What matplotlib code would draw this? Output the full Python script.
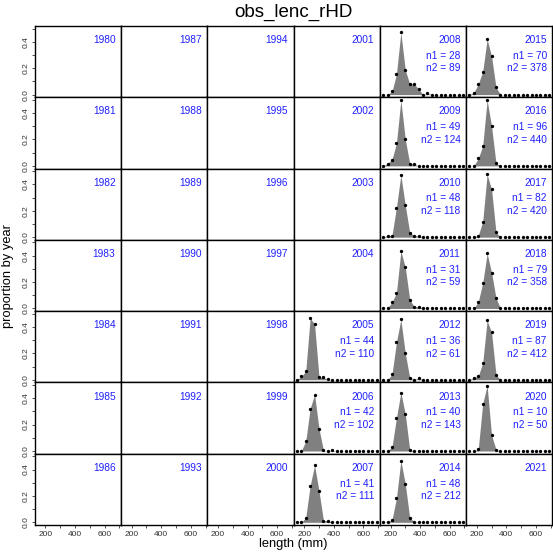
import matplotlib
matplotlib.use("Agg")
import matplotlib.pyplot as plt
import numpy as np

plt.rcParams['font.family'] = ['Liberation Sans', 'DejaVu Sans']

# length bins (mm)
bins = [150, 180, 210, 240, 270, 300, 330, 360, 390, 420,
        450, 480, 510, 540, 570, 600, 630, 660, 690]

first_year = 1980
n_rows = 7
n_cols = 6

comp_years = [2005, 2006, 2007, 2008, 2009, 2010, 2011, 2012, 2013, 2014,
              2015, 2016, 2017, 2018, 2019, 2020]
n1 = [44, 42, 41, 28, 49, 48, 31, 36, 40, 48, 70, 96, 82, 79, 87, 10]
n2 = [110, 102, 111, 89, 124, 118, 59, 61, 143, 212, 378, 440, 420, 358, 412, 50]

# observed proportions at length, one row per year in comp_years
props = [
    [0, 0.025, 0.063, 0.467, 0.421, 0.017, 0.017, 0.002, 0, 0, 0, 0, 0, 0, 0, 0, 0, 0, 0],
    [0, 0, 0.074, 0.322, 0.428, 0.168, 0.004, 0, 0.004, 0, 0, 0, 0, 0, 0, 0, 0, 0, 0],
    [0, 0, 0.033, 0.278, 0.432, 0.235, 0.013, 0.013, 0, 0, 0, 0, 0, 0, 0, 0, 0, 0, 0],
    [0, 0, 0.024, 0.153, 0.471, 0.186, 0.08, 0.08, 0.042, 0, 0.009, 0, 0, 0, 0, 0, 0, 0, 0],
    [0, 0.018, 0.048, 0.17, 0.498, 0.2, 0.018, 0.012, 0, 0, 0, 0, 0, 0, 0, 0, 0, 0, 0],
    [0, 0.012, 0.012, 0.224, 0.47, 0.24, 0.035, 0.01, 0.01, 0, 0, 0, 0, 0, 0, 0, 0, 0, 0],
    [0, 0, 0.048, 0.117, 0.435, 0.311, 0.067, 0.014, 0.014, 0, 0, 0, 0, 0, 0, 0, 0, 0, 0],
    [0, 0, 0.04, 0.283, 0.457, 0.2, 0.015, 0, 0.012, 0, 0, 0, 0, 0, 0, 0, 0, 0, 0],
    [0, 0, 0.03, 0.25, 0.443, 0.279, 0.009, 0, 0, 0, 0, 0, 0, 0, 0, 0, 0, 0, 0],
    [0, 0.003, 0.018, 0.182, 0.467, 0.29, 0.033, 0.005, 0, 0, 0, 0, 0, 0, 0, 0, 0, 0, 0],
    [0, 0.014, 0.08, 0.173, 0.42, 0.29, 0.055, 0, 0, 0, 0, 0, 0, 0, 0, 0, 0, 0, 0],
    [0, 0, 0.056, 0.149, 0.498, 0.30, 0.02, 0, 0, 0, 0, 0, 0, 0, 0, 0, 0, 0, 0],
    [0, 0, 0.012, 0.118, 0.475, 0.362, 0.037, 0, 0, 0, 0, 0, 0, 0, 0, 0, 0, 0, 0],
    [0, 0, 0.05, 0.192, 0.417, 0.271, 0.079, 0, 0, 0, 0, 0, 0, 0, 0, 0, 0, 0, 0],
    [0, 0.015, 0.027, 0.126, 0.449, 0.358, 0.038, 0, 0, 0, 0, 0, 0, 0, 0, 0, 0, 0, 0],
    [0, 0, 0.014, 0.358, 0.496, 0.12, 0.011, 0, 0, 0, 0, 0, 0, 0, 0, 0, 0, 0, 0],
]

text_col = '#2020ff'

fig, axes = plt.subplots(n_rows, n_cols, figsize=(5.53, 5.52), dpi=100,
                         sharex=True, sharey=True)
fig.subplots_adjust(left=0.063, right=0.999, top=0.953, bottom=0.049,
                    wspace=0, hspace=0)

pad = 0.04 * (bins[-1] - bins[0])
x = np.array(bins)

for c in range(n_cols):
    for r in range(n_rows):
        ax = axes[r, c]
        year = first_year + c * n_rows + r
        ax.set_xlim(bins[0] - pad, bins[-1] + pad)
        ax.set_ylim(-0.02, 0.52)
        for s in ax.spines.values():
            s.set_linewidth(1.0)

        ax.text(0.935, 0.80, str(year), transform=ax.transAxes, ha='right',
                va='center', color=text_col, fontsize=7.3)

        if year in comp_years:
            i = comp_years.index(year)
            y = np.array(props[i])
            ax.fill_between(x, 0, y, color='#808080', lw=0)
            ax.plot(x, y, 'o', color='black', ms=2.4, mew=0)
            ax.text(0.935, 0.58, 'n1 = %d' % n1[i], transform=ax.transAxes,
                    ha='right', va='center', color=text_col, fontsize=7.3)
            ax.text(0.935, 0.405, 'n2 = %d' % n2[i], transform=ax.transAxes,
                    ha='right', va='center', color=text_col, fontsize=7.3)

        ax.set_xticks([200, 300, 400, 500, 600, 700])
        ax.set_xticklabels(['200', '', '400', '', '600', ''])
        ax.set_yticks([0.0, 0.1, 0.2, 0.3, 0.4, 0.5])
        ax.set_yticklabels(['0.0', '', '0.2', '', '0.4', ''])
        ax.tick_params(length=2.5, width=0.6, labelsize=6, pad=1.5,
                       colors='#333333')
        ax.tick_params(axis='y', labelrotation=90)
        for lab in ax.get_yticklabels():
            lab.set_va('center')
        if c != 0:
            ax.tick_params(axis='y', left=False, labelleft=False)
        if r != n_rows - 1:
            ax.tick_params(axis='x', bottom=False, labelbottom=False)

fig.text(0.531, 0.978, 'obs_lenc_rHD', ha='center', va='center', fontsize=13.5)
fig.text(0.531, 0.014, 'length (mm)', ha='center', va='center', fontsize=9.3)
fig.text(0.014, 0.5, 'proportion by year', ha='center', va='center',
         rotation=90, fontsize=9.3)

plt.savefig('out.png', dpi=100)
